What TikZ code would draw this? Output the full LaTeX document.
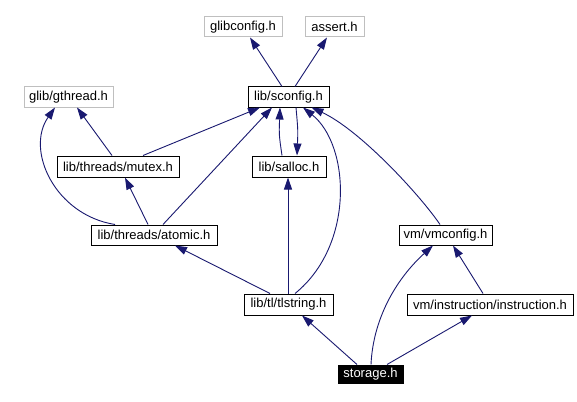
\documentclass[tikz,border=0pt]{standalone}
\usepackage{fontspec}
\setmainfont{Liberation Sans}
\usetikzlibrary{arrows.meta}
\definecolor{edgec}{HTML}{191970}
\definecolor{greyb}{HTML}{BFBFBF}
\begin{document}
\begin{tikzpicture}[x=1pt,y=-1pt,
  box/.style={draw=black, line width=1pt, inner sep=0pt, font=\fontsize{13}{14}\selectfont, text=black},
  gbox/.style={box, draw=greyb},
  sbox/.style={box, fill=black, text=white},
  edge/.style={draw=edgec, line width=0.9pt, -{Triangle[length=12pt,width=8pt]}}]
\useasboundingbox[fill=white] (0,0) rectangle (577,401);
\node[gbox, minimum width=78pt, minimum height=20pt] (glibconfig) at (243,27) {glibconfig.h};
\node[gbox, minimum width=59pt, minimum height=20pt] (assert) at (334.5,27) {assert.h};
\node[gbox, minimum width=89pt, minimum height=20pt] (gthread) at (68.5,97) {glib/gthread.h};
\node[box, minimum width=81pt, minimum height=20pt] (sconfig) at (288.5,97) {lib/sconfig.h};
\node[box, minimum width=122pt, minimum height=21pt] (mutex) at (118,166.5) {lib/threads/mutex.h};
\node[box, minimum width=74pt, minimum height=21pt] (salloc) at (289,166.5) {lib/salloc.h};
\node[box, minimum width=126pt, minimum height=20pt] (atomic) at (154,235) {lib/threads/atomic.h};
\node[box, minimum width=93pt, minimum height=20pt] (vmconfig) at (445.5,235) {vm/vmconfig.h};
\node[box, minimum width=89pt, minimum height=21pt] (tlstring) at (288.5,304.5) {lib/tl/tlstring.h};
\node[box, minimum width=166pt, minimum height=21pt] (instruction) at (490,304.5) {vm/instruction/instruction.h};
\node[sbox, minimum width=65pt, minimum height=18pt] (storage) at (370.5,374) {storage.h};

\draw[edge] ([xshift=-6.5pt]sconfig.north) -- ([xshift=7pt]glibconfig.south);
\draw[edge] ([xshift=6.5pt]sconfig.north) -- ([xshift=-7.5pt]assert.south);
\draw[edge] ([xshift=-6pt]mutex.north) -- ([xshift=8.5pt]gthread.south);
\draw[edge] ([xshift=25pt]mutex.north) -- ([xshift=-28.5pt]sconfig.south);
\draw[edge] ([xshift=-39pt]atomic.north) .. controls (55,215) and (25,150) .. ([xshift=-13.5pt]gthread.south);
\draw[edge] ([xshift=-6pt]atomic.north) -- ([xshift=7pt]mutex.south);
\draw[edge] ([xshift=9pt]atomic.north) -- ([xshift=-16.5pt]sconfig.south);
\draw[edge] ([xshift=-7pt]salloc.north) .. controls (279,135) .. ([xshift=-8.5pt]sconfig.south);
\draw[edge] ([xshift=7.5pt]sconfig.south) .. controls (298,130) .. ([xshift=8pt]salloc.north);
\draw[edge] ([xshift=-0.5pt]tlstring.north) -- ([xshift=-1pt]salloc.south);
\draw[edge] ([xshift=6.5pt]tlstring.north) .. controls (355,245) and (350,145) .. ([xshift=14.5pt]sconfig.south);
\draw[edge] ([xshift=-18.5pt]tlstring.north) -- ([xshift=21pt]atomic.south);
\draw[edge] ([xshift=-5.5pt]vmconfig.north) .. controls (420,195) and (360,130) .. ([xshift=23pt]sconfig.south);
\draw[edge] ([xshift=-13.5pt]storage.north) -- ([xshift=13.5pt]tlstring.south);
\draw[edge] ([xshift=0.5pt]storage.north) .. controls (373,320) and (395,280) .. ([xshift=-12.5pt]vmconfig.south);
\draw[edge] ([xshift=16.5pt]storage.north) -- ([xshift=-18pt]instruction.south);
\draw[edge] ([xshift=-7pt]instruction.north) -- ([xshift=7.5pt]vmconfig.south);
\end{tikzpicture}
\end{document}
